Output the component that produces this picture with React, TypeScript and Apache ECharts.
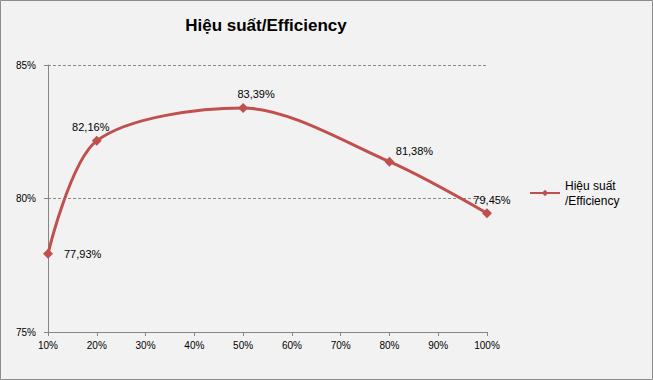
import React, { useEffect, useRef } from "react";
import * as echarts from "echarts";

const loads = [10, 20, 50, 80, 100];
const efficiency = [77.93, 82.16, 83.39, 81.38, 79.45];
const labelOffsets: [number, number][] = [[0, 0], [-6, 2], [13, 2], [25, 5], [5, 2]];
const seriesName = "Hiệu suất\n/Efficiency";
const titleText = "Hiệu suất/Efficiency";

export default function App() {
  const ref = useRef<HTMLDivElement>(null);
  useEffect(() => {
    const chart = echarts.init(ref.current!, null, { renderer: "svg" });
    const fmt = (v: number) => v.toFixed(2).replace(".", ",") + "%";
    const data = loads.map((x, i) => {
      const item: any = { value: [x, efficiency[i]] };
      if (i === 0) {
        item.label = { position: "right", distance: 11 };
      } else {
        item.label = { position: "top", distance: 5, offset: labelOffsets[i] };
      }
      return item;
    });
    chart.setOption({
      animation: false,
      backgroundColor: "#F2F2F2",
      textStyle: { fontFamily: "Liberation Sans" },
      title: {
        text: titleText,
        left: 261,
        top: 12,
        textAlign: "center",
        textStyle: { fontFamily: "Liberation Sans", fontWeight: "bold", fontSize: 17, color: "#000" },
      },
      graphic: [
        {
          type: "rect",
          shape: { x: 0.5, y: 0.5, width: 652, height: 379 },
          style: { fill: "none", stroke: "#8C8C8C", lineWidth: 1 },
          silent: true,
        },
      ],
      legend: {
        left: 524,
        top: 173,
        orient: "vertical",
        itemWidth: 30,
        itemHeight: 8,
        itemGap: 4,
        textStyle: { fontSize: 12, color: "#000", lineHeight: 15, fontFamily: "Liberation Sans" },
        data: [seriesName],
      },
      grid: { left: 48, right: 166, top: 65, bottom: 48, containLabel: false },
      xAxis: {
        type: "value",
        min: 10,
        max: 100,
        interval: 10,
        axisLine: { show: true, lineStyle: { color: "#868686", width: 1 } },
        axisTick: { show: true, length: 4, lineStyle: { color: "#868686" } },
        splitLine: { show: false },
        axisLabel: { formatter: (v: number) => v + "%", color: "#000", fontSize: 10, margin: 8 },
      },
      yAxis: {
        type: "value",
        min: 75,
        max: 85,
        interval: 5,
        axisLine: { show: true, lineStyle: { color: "#868686", width: 1 } },
        axisTick: { show: true, length: 4, lineStyle: { color: "#868686" } },
        splitLine: { show: true, lineStyle: { color: "#8C8C8C", type: [3, 2], width: 1 } },
        axisLabel: { formatter: (v: number) => v + "%", color: "#000", fontSize: 10, margin: 12 },
      },
      series: [
        {
          name: seriesName,
          type: "line",
          data,
          smooth: 0.3,
          symbol: "diamond",
          symbolSize: 10,
          lineStyle: { color: "#C0504D", width: 3 },
          itemStyle: { color: "#C0504D" },
          label: {
            show: true,
            color: "#000",
            fontSize: 11,
            formatter: (p: any) => fmt(p.value[1]),
          },
        },
      ],
    });
    return () => chart.dispose();
  }, []);
  return <div ref={ref} style={{ position: "fixed", left: 0, top: 0, width: 653, height: 380 }} />;
}
